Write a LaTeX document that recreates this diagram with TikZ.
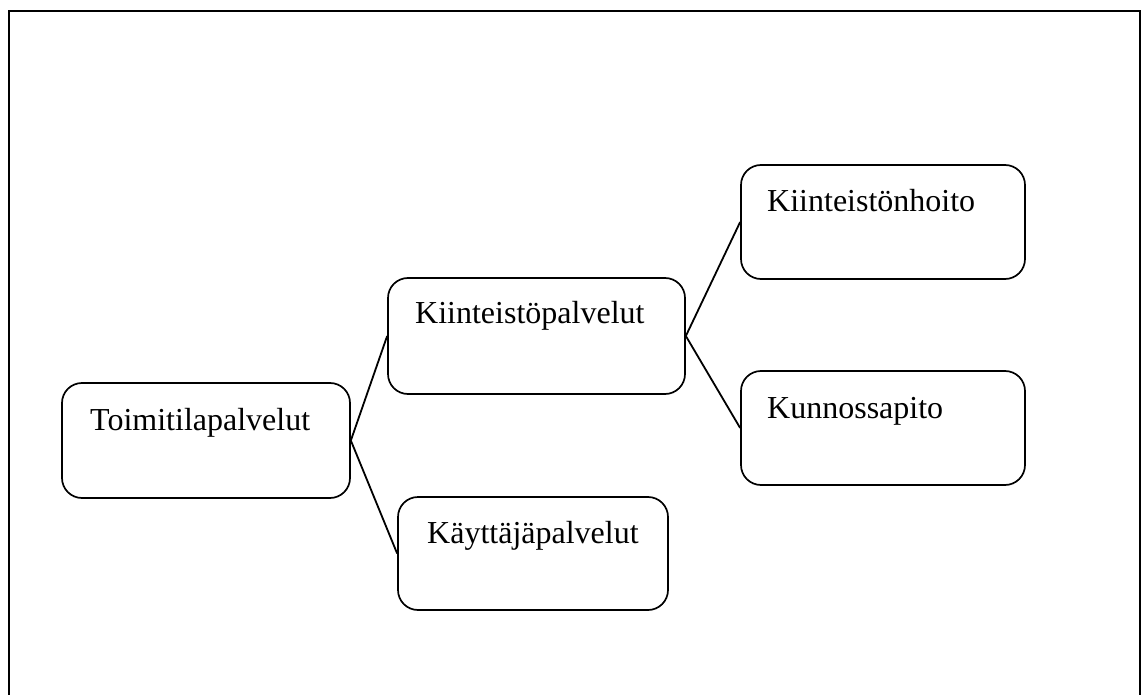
\documentclass[tikz,border=0pt]{standalone}
\usepackage{fontspec}
\setmainfont{Liberation Serif}
\begin{document}
\begin{tikzpicture}[x=1pt,y=-1pt,
  box/.style={draw=black,line width=1.7pt,rounded corners=20pt,inner sep=0pt},
  lbl/.style={anchor=base west,inner sep=0pt,font=\fontsize{32}{36}\selectfont},
  conn/.style={draw=black,line width=1.8pt}]
\useasboundingbox (0,0) rectangle (1143,695);
\fill[white] (0,0) rectangle (1143,695);
% frame
\draw[line width=2.6pt] (9,695) -- (9,11) -- (1140,11) -- (1140,695);
% boxes
\node[box,minimum width=288pt,minimum height=115pt] (toim) at (206,440.5) {};
\node[box,minimum width=297pt,minimum height=116pt] (kiin) at (536.5,336) {};
\node[box,minimum width=270pt,minimum height=113pt] (kayt) at (533,553.5) {};
\node[box,minimum width=284pt,minimum height=114pt] (hoito) at (883,222) {};
\node[box,minimum width=284pt,minimum height=114pt] (kunn) at (883,428) {};
% labels
\node[lbl] (t1) at (90,430) {Toimitilapalvelut};
\node[lbl] (t2) at (415,323) {Kiinteistöpalvelut};
\node[lbl] (t3) at (427,543) {Käyttäjäpalvelut};
\node[lbl] (t4) at (767,212) {Kiinteistönhoito};
\node[lbl] (t5) at (767,418) {Kunnossapito};
% connectors
\draw[conn] (toim.east) -- (kiin.west);
\draw[conn] (toim.east) -- (kayt.west);
\draw[conn] (kiin.east) -- (hoito.west);
\draw[conn] (kiin.east) -- (kunn.west);
\end{tikzpicture}
\end{document}
